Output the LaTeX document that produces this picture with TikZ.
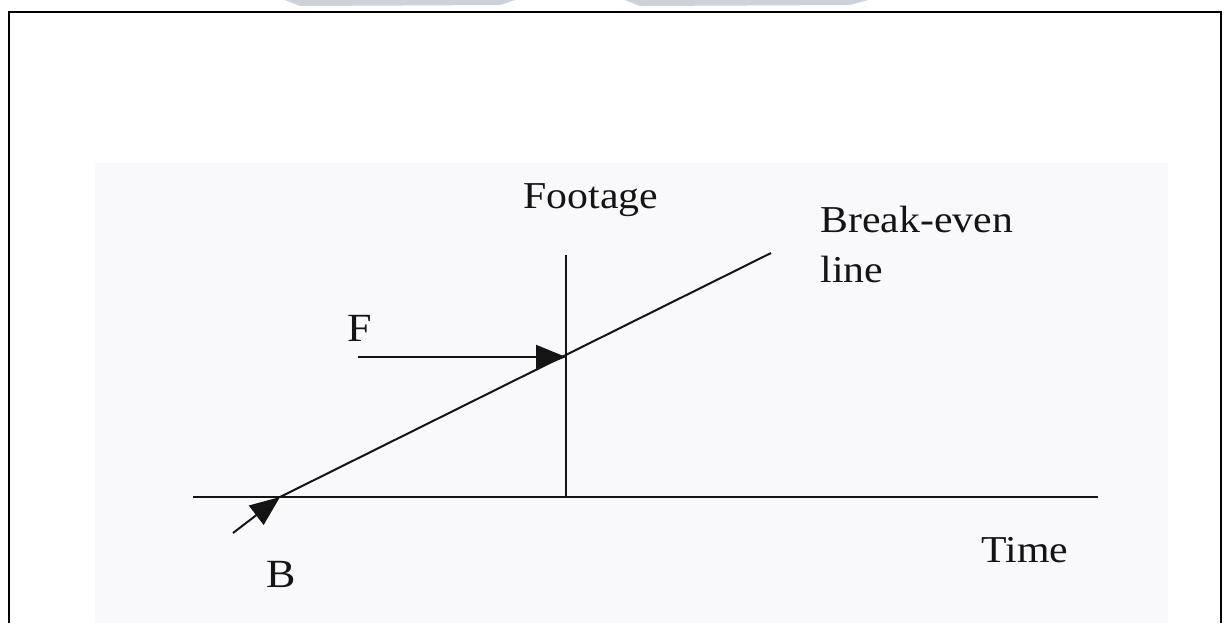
\documentclass[tikz,border=0pt]{standalone}
\usepackage{fontspec}
\setmainfont{Liberation Serif}[FakeStretch=1.1]
\usetikzlibrary{arrows.meta}
\definecolor{panel}{RGB}{249,249,252}
\definecolor{smudge}{RGB}{205,210,218}
\definecolor{ink}{RGB}{20,20,20}
\tikzset{
  lbl/.style={font=\fontsize{19pt}{25pt}\selectfont, text=ink, inner sep=0pt, anchor=base west},
  axis/.style={draw=ink, line width=1pt},
  pointer/.style={draw=ink, line width=1pt, -{Triangle[length=15pt,width=12pt]}},
}
\begin{document}
\begin{tikzpicture}[x=0.5pt,y=-0.5pt]
\useasboundingbox (0,0) rectangle (1225,623);
% scan remnants above the frame
\fill[smudge] (285,0) -- (515,0) -- (500,5) -- (300,6) -- cycle;
\fill[smudge] (625,0) -- (868,0) -- (850,5) -- (640,6) -- cycle;
% frame
\draw[line width=1.4pt, black] (9,623) -- (9,12) -- (1221,12) -- (1221,623);
% light panel
\fill[panel] (95,163) rectangle (1168,623);
% coordinates
\coordinate (xl) at (193,497);
\coordinate (xr) at (1098,497);
\coordinate (O) at (566,497);
\coordinate (yt) at (566,255);
\coordinate (Bp) at (280,497);
\coordinate (Be) at (771,253);
\coordinate (Fp) at (566,355);
\coordinate (Fs) at (358,357);
\coordinate (Bs) at (233,533);
% axes
\draw[axis] (xl) -- (xr);
\draw[axis] (O) -- (yt);
% break-even line
\draw[axis] (Bp) -- (Be);
% arrows
\draw[pointer] (Fs) -- (Fs -| Fp);
\draw[pointer] (Bs) -- (Bp);
% labels
\node[lbl] (footage) at (523,208) {Footage};
\node[lbl] (be1) at (820,232) {Break-even};
\node[lbl] (be2) at (820,282) {line};
\node[lbl, font=\fontsize{20pt}{25pt}\selectfont] (F) at (347,341) {F};
\node[lbl, font=\fontsize{20pt}{25pt}\selectfont] (B) at (266,587) {B};
\node[lbl] (time) at (981,562) {Time};
\end{tikzpicture}
\end{document}
